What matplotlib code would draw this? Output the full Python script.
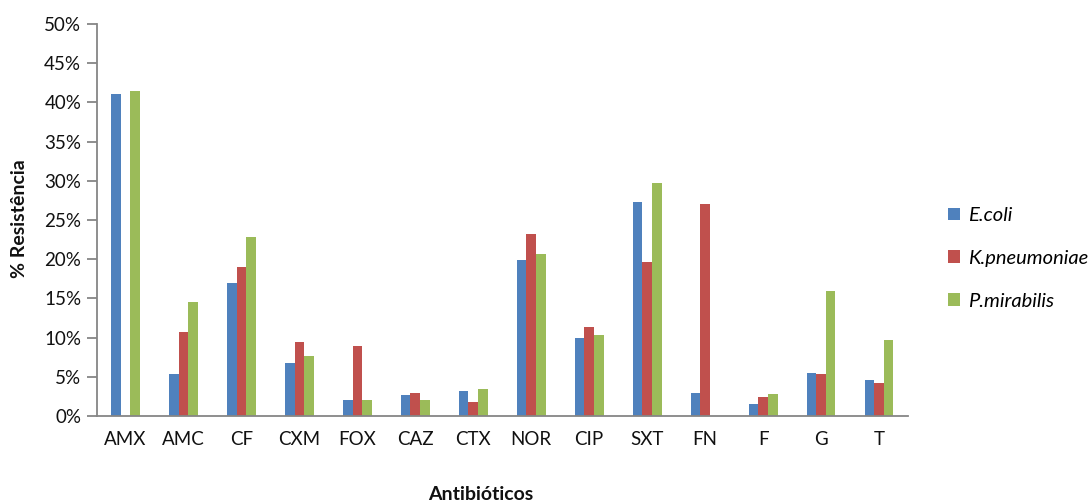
import matplotlib
matplotlib.use("Agg")
import matplotlib.pyplot as plt
import numpy as np
from matplotlib.ticker import FuncFormatter, MultipleLocator

plt.rcParams['font.family'] = ['Lato', 'DejaVu Sans']

categories = ["AMX", "AMC", "CF", "CXM", "FOX", "CAZ", "CTX", "NOR", "CIP", "SXT", "FN", "F", "G", "T"]
e_coli = [41.1, 5.4, 17.0, 6.7, 2.0, 2.7, 3.2, 19.9, 10.0, 27.3, 2.9, 1.5, 5.5, 4.6]
k_pneumoniae = [0.0, 10.7, 19.0, 9.5, 8.9, 2.9, 1.8, 23.2, 11.3, 19.6, 27.0, 2.4, 5.4, 4.2]
p_mirabilis = [41.4, 14.5, 22.8, 7.6, 2.1, 2.1, 3.4, 20.7, 10.3, 29.7, 0.0, 2.8, 15.9, 9.7]
series_names = ["E.coli", "K.pneumoniae", "P.mirabilis"]
colors = ["#4F81BD", "#C0504D", "#9BBB59"]

W, H = 1091, 504
fig = plt.figure(figsize=(W / 100, H / 100), dpi=100)
ax = fig.add_axes([96.5 / W, (H - 416) / H, (908 - 96.5) / W, (416 - 24) / H])

x = np.arange(len(categories))
bw = 0.166
for i, (vals, name, c) in enumerate(zip([e_coli, k_pneumoniae, p_mirabilis], series_names, colors)):
    ax.bar(x + (i - 1) * bw, vals, width=bw, color=c, label=name, zorder=2)

ax.set_xlim(-0.5, len(categories) - 0.5)
ax.set_ylim(0, 50)
ax.yaxis.set_major_locator(MultipleLocator(5))
ax.yaxis.set_major_formatter(FuncFormatter(lambda v, p: f"{v:.0f}%"))
ax.set_xticks(x)
ax.set_xticklabels(categories)

axis_gray = "#868686"
for s in ["top", "right"]:
    ax.spines[s].set_visible(False)
for s in ["left", "bottom"]:
    ax.spines[s].set_color(axis_gray)
    ax.spines[s].set_linewidth(1.3)
ax.tick_params(axis="y", direction="out", length=7, width=1.3, color=axis_gray,
               labelsize=13.5, labelcolor="#111111", pad=4)
ax.tick_params(axis="x", length=0, labelsize=13.5, labelcolor="#111111", pad=11)

fig.text(20 / W, 1 - 219 / H, "% Resistência", rotation=90, ha="center", va="center",
         fontsize=14, fontweight="bold", color="#111111")
fig.text(481 / W, 1 - 495 / H, "Antibióticos", ha="center", va="center",
         fontsize=14, fontweight="bold", color="#111111")

leg = fig.legend(loc="upper left", bbox_to_anchor=(948 / W, 1 - 207 / H), frameon=False,
                 prop={"style": "italic", "size": 14.5}, handlelength=0.6, handleheight=0.6,
                 handletextpad=0.4, labelspacing=1.28, borderpad=0, borderaxespad=0)

fig.savefig("out.png", dpi=100)
